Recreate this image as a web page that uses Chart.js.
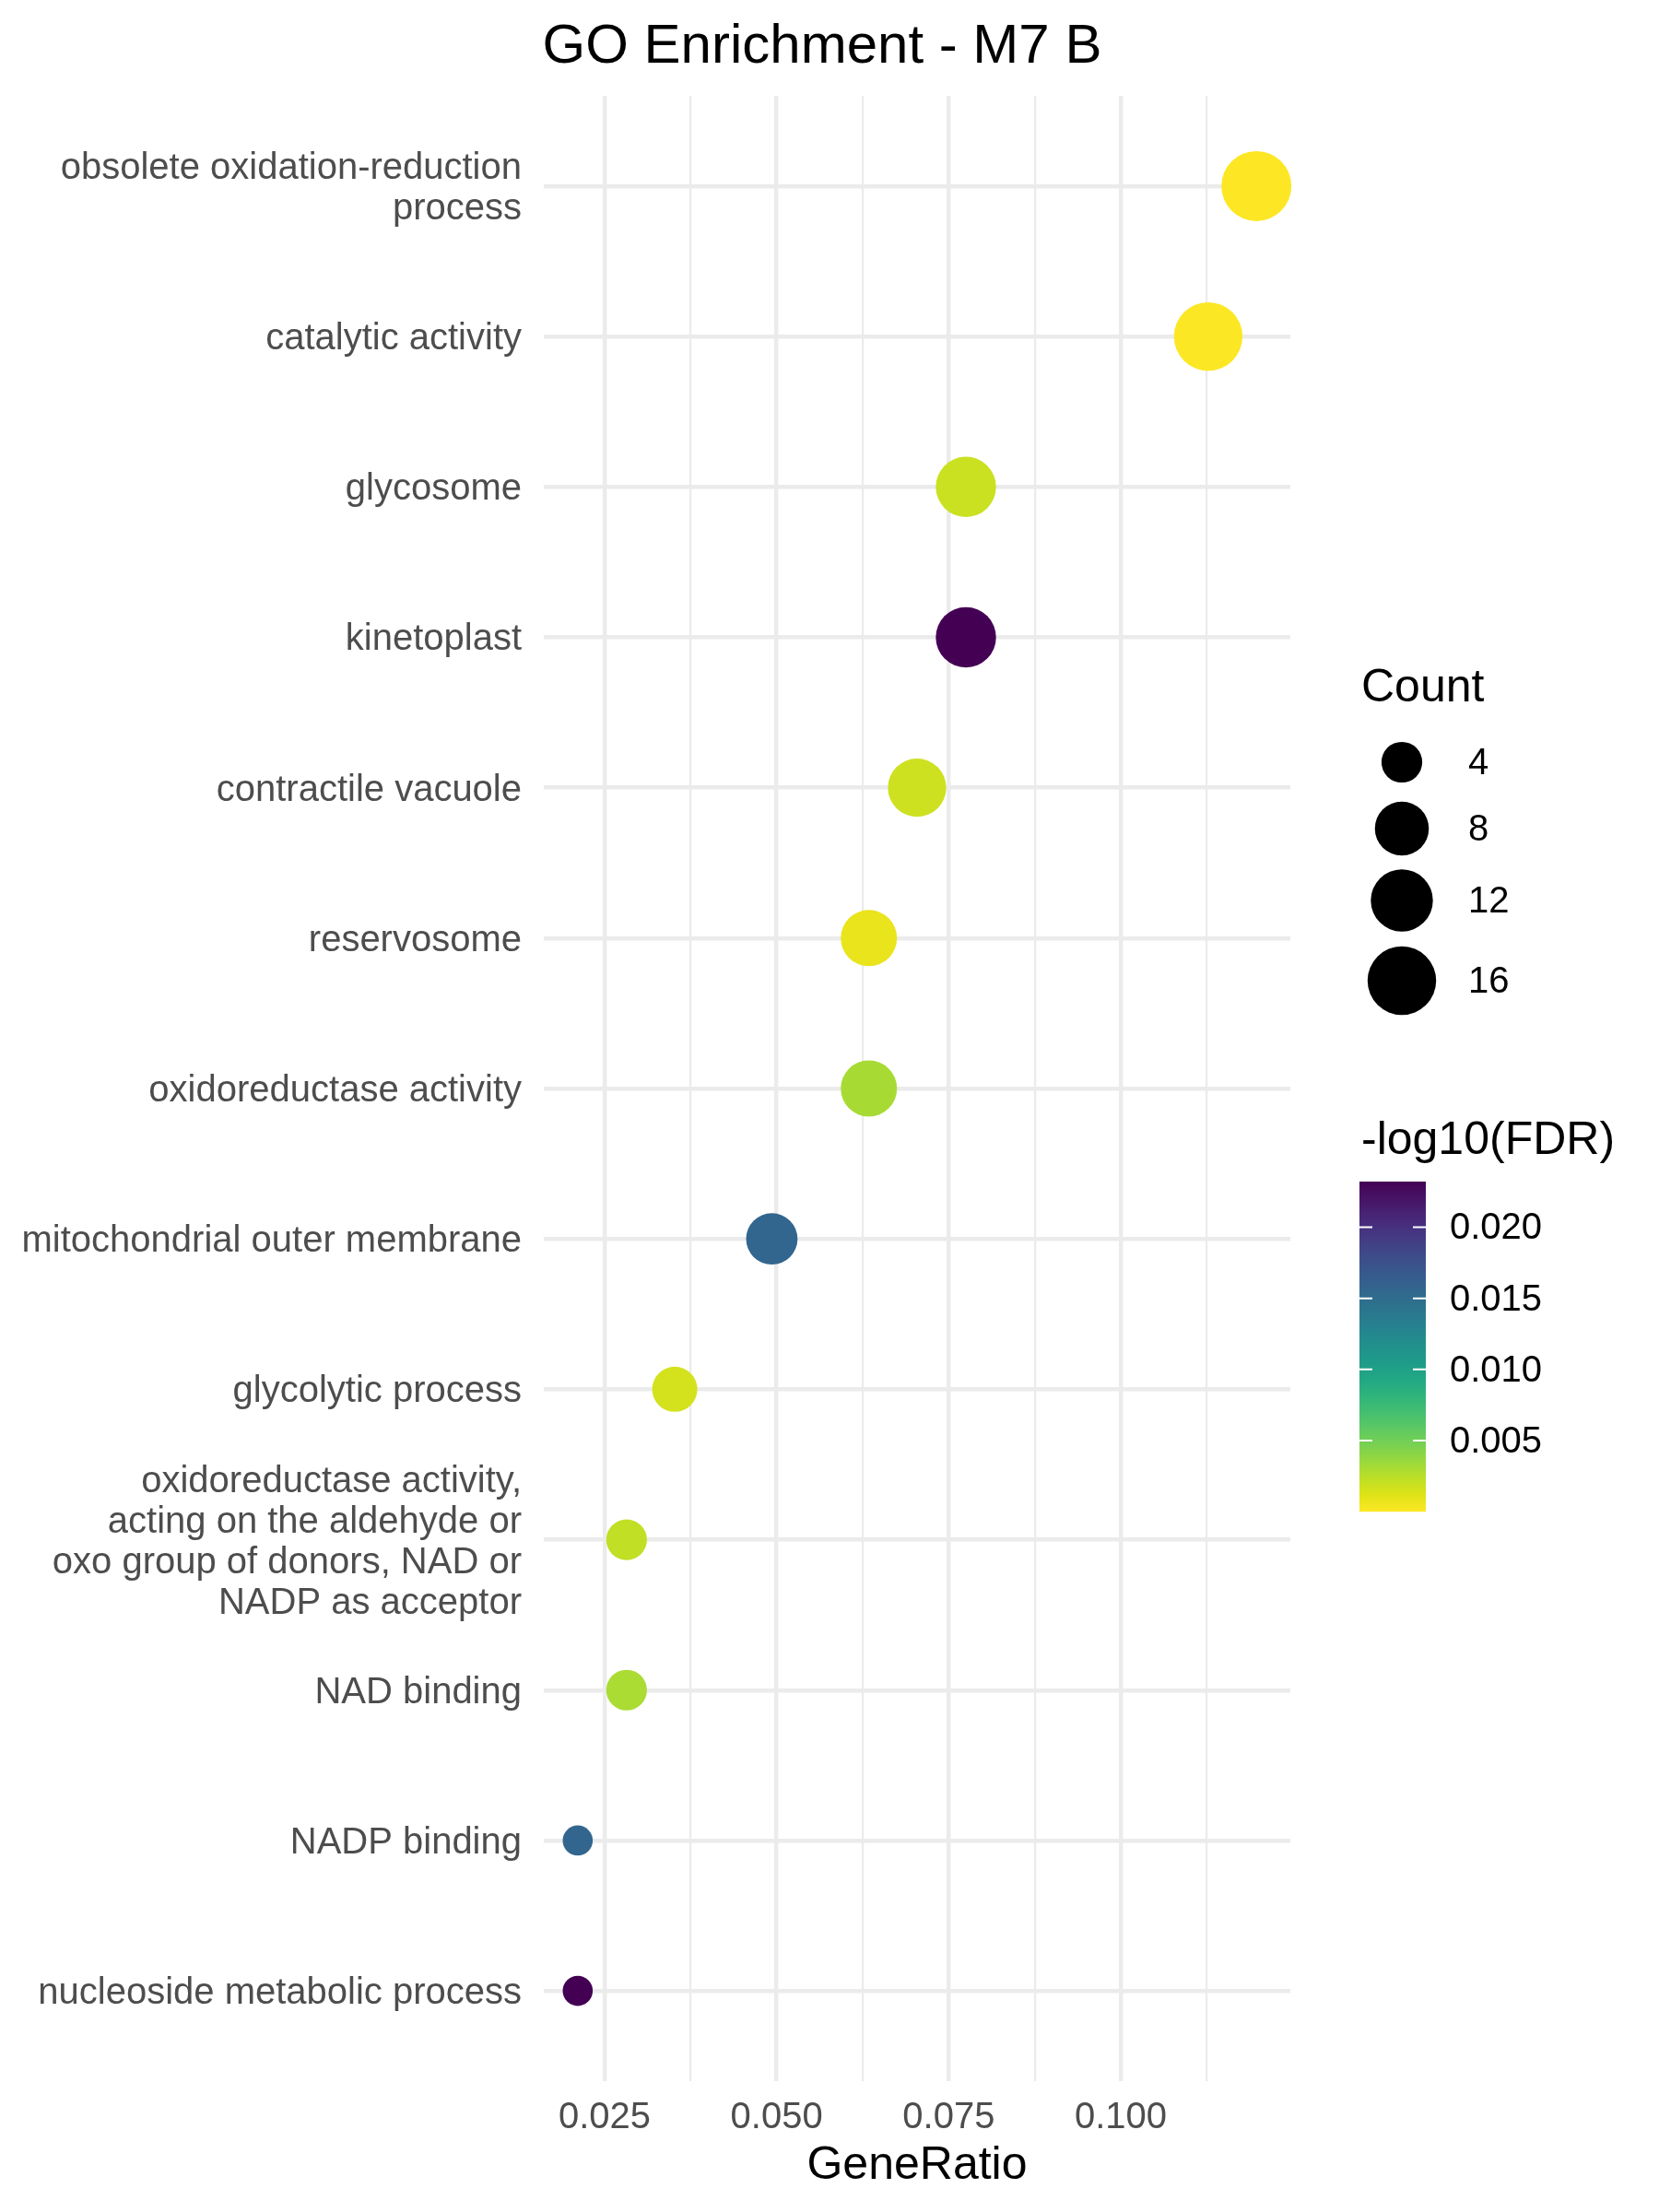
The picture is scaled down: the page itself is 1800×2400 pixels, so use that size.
<!DOCTYPE html>
<html><head><meta charset="utf-8">
<script src="https://cdn.jsdelivr.net/npm/chart.js@4/dist/chart.umd.min.js"></script>
<style>html,body{margin:0;padding:0;background:#fff}canvas{display:block}</style>
</head><body>
<canvas id="c" width="1800" height="2400"></canvas>
<script>
// ---------- data ----------
const categories = [
  ["obsolete oxidation-reduction", "process"],
  "catalytic activity",
  "glycosome",
  "kinetoplast",
  "contractile vacuole",
  "reservosome",
  "oxidoreductase activity",
  "mitochondrial outer membrane",
  "glycolytic process",
  ["oxidoreductase activity,", "acting on the aldehyde or", "oxo group of donors, NAD or", "NADP as acceptor"],
  "NAD binding",
  "NADP binding",
  "nucleoside metabolic process"
];
const geneRatio = [0.1197, 0.1127, 0.0775, 0.0775, 0.0704, 0.0634, 0.0634, 0.0493, 0.0352, 0.0282, 0.0282, 0.0211, 0.0211];
const counts = [17, 16, 11, 11, 10, 9, 9, 7, 5, 4, 4, 3, 3];
const negLog10FDR = [0.00002, 0.00005, 0.0019, 0.0232, 0.0018, 0.0008, 0.0031, 0.0156, 0.0016, 0.0022, 0.0030, 0.0156, 0.0232];
const xMajorTicks = [0.025, 0.050, 0.075, 0.100];
const xMajorLabels = ["0.025", "0.050", "0.075", "0.100"];
const xMinorTicks = [0.0375, 0.0625, 0.0875, 0.1125];
const sizeLegendCounts = [4, 8, 12, 16];
const colorLegendTicks = [0.005, 0.010, 0.015, 0.020];
const colorLegendLabels = ["0.005", "0.010", "0.015", "0.020"];
const titleText = "GO Enrichment - M7 B";
const xTitle = "GeneRatio";
const sizeTitle = "Count";
const colorTitle = "-log10(FDR)";

// ---------- styling helpers ----------
const FONT = '"Liberation Sans", Arial, Helvetica, sans-serif';
const VIR = ["#440154","#471365","#482475","#463480","#414487","#3B528B","#355F8D","#2F6C8E","#2A788E","#25848E","#21918C","#1E9C89","#22A884","#2FB47C","#44BF70","#5EC962","#7AD151","#9BD93C","#BDDF26","#DFE318","#FDE725"];
function hex2rgb(h){return [parseInt(h.slice(1,3),16),parseInt(h.slice(3,5),16),parseInt(h.slice(5,7),16)];}
const VIRRGB = VIR.map(hex2rgb);
function viridis(t){
  t = Math.max(0, Math.min(1, t));
  const p = t * (VIRRGB.length - 1), i = Math.min(Math.floor(p), VIRRGB.length - 2), f = p - i;
  const a = VIRRGB[i], b = VIRRGB[i+1];
  return `rgb(${Math.round(a[0]+(b[0]-a[0])*f)},${Math.round(a[1]+(b[1]-a[1])*f)},${Math.round(a[2]+(b[2]-a[2])*f)})`;
}
const vMin = Math.min(...negLog10FDR), vMax = Math.max(...negLog10FDR);
function colorFor(v){ return viridis(1 - (v - vMin) / (vMax - vMin)); }
const cMin = Math.min(...counts), cMax = Math.max(...counts);
const R_MIN = 16.3, R_MAX = 38;
function radiusFor(c){ return R_MIN + (R_MAX - R_MIN) * Math.sqrt(Math.max(0, (c - cMin) / (cMax - cMin))); }
function isMajor(v){ return xMajorTicks.some(m => Math.abs(m - v) < 1e-9); }

// x limits: data range expanded by 5% (ggplot default)
const xr = Math.max(...geneRatio) - Math.min(...geneRatio);
const xMin = Math.min(...geneRatio) - 0.05 * xr;
const xMax = Math.max(...geneRatio) + 0.05 * xr;

const points = geneRatio.map((g, i) => ({x: g, y: i}));

const overlay = {
  id: 'overlay',
  afterDraw(chart){
    const ctx = chart.ctx;
    ctx.save();
    // title
    ctx.fillStyle = '#000';
    ctx.font = `60px ${FONT}`;
    ctx.textAlign = 'center';
    ctx.textBaseline = 'alphabetic';
    ctx.fillText(titleText, 892, 68);

    // size legend
    ctx.textAlign = 'left';
    ctx.font = `50px ${FONT}`;
    ctx.fillText(sizeTitle, 1477, 761);
    const keyY = [827, 899, 977, 1064];
    ctx.font = `40px ${FONT}`;
    ctx.textBaseline = 'middle';
    sizeLegendCounts.forEach((c, i) => {
      ctx.beginPath();
      ctx.arc(1521, keyY[i], radiusFor(c), 0, Math.PI * 2);
      ctx.fillStyle = '#000';
      ctx.fill();
      ctx.fillText(String(c), 1593, keyY[i] + 2);
    });

    // colour legend
    ctx.textBaseline = 'alphabetic';
    ctx.font = `50px ${FONT}`;
    ctx.fillText(colorTitle, 1477, 1252);
    const bx = 1475, bw = 72, by = 1282, bh = 358;
    for (let k = 0; k < bh; k++) {
      const v = vMax - (k + 0.5) / bh * (vMax - vMin);
      ctx.fillStyle = colorFor(v);
      ctx.fillRect(bx, by + k, bw, 1.2);
    }
    ctx.font = `40px ${FONT}`;
    ctx.textBaseline = 'middle';
    colorLegendTicks.forEach((v, i) => {
      const y = by + (vMax - v) / (vMax - vMin) * bh;
      ctx.strokeStyle = '#fff';
      ctx.lineWidth = 2;
      ctx.beginPath();
      ctx.moveTo(bx, y); ctx.lineTo(bx + 14, y);
      ctx.moveTo(bx + bw - 14, y); ctx.lineTo(bx + bw, y);
      ctx.stroke();
      ctx.fillStyle = '#000';
      ctx.fillText(colorLegendLabels[i], 1573, y + 2);
    });
    ctx.restore();
  }
};

Chart.defaults.font.family = FONT;
new Chart(document.getElementById('c'), {
  type: 'scatter',
  data: {
    datasets: [{
      data: points,
      pointRadius: counts.map(radiusFor),
      pointHoverRadius: counts.map(radiusFor),
      pointBackgroundColor: negLog10FDR.map(colorFor),
      pointBorderWidth: 0,
      borderWidth: 0,
      clip: false
    }]
  },
  options: {
    responsive: false,
    animation: false,
    events: [],
    layout: { padding: { top: 104, right: 400, bottom: 0, left: 0 } },
    plugins: { legend: { display: false }, title: { display: false }, tooltip: { enabled: false } },
    scales: {
      x: {
        type: 'linear',
        min: xMin, max: xMax,
        afterBuildTicks(scale){
          scale.ticks = [...xMajorTicks, ...xMinorTicks].sort((a,b)=>a-b).map(v => ({value: v}));
        },
        afterFit(scale){ scale.height = 142; },
        ticks: {
          autoSkip: false, maxRotation: 0, padding: 16,
          color: '#4D4D4D', font: { size: 40 },
          callback(v){ const i = xMajorTicks.findIndex(m => Math.abs(m - v) < 1e-9); return i >= 0 ? xMajorLabels[i] : ''; }
        },
        grid: {
          color: '#EBEBEB', drawTicks: false,
          lineWidth(ctx){ return ctx.tick && isMajor(ctx.tick.value) ? 4.4 : 2.2; }
        },
        border: { display: false },
        title: { display: true, text: xTitle, color: '#000', font: { size: 50 }, padding: { top: 0, bottom: 20 } }
      },
      y: {
        type: 'linear',
        reverse: true,
        min: -0.6, max: categories.length - 1 + 0.6,
        afterBuildTicks(scale){
          scale.ticks = categories.map((c, i) => ({value: i}));
        },
        afterFit(scale){ scale.width = 590; },
        ticks: {
          autoSkip: false, padding: 24, labelOffset: 3,
          color: '#4D4D4D', font: { size: 40, lineHeight: 1.1 },
          callback(v){ return categories[Math.round(v)]; }
        },
        grid: { color: '#EBEBEB', lineWidth: 4.4, drawTicks: false },
        border: { display: false }
      }
    }
  },
  plugins: [overlay]
});
</script>
</body></html>
